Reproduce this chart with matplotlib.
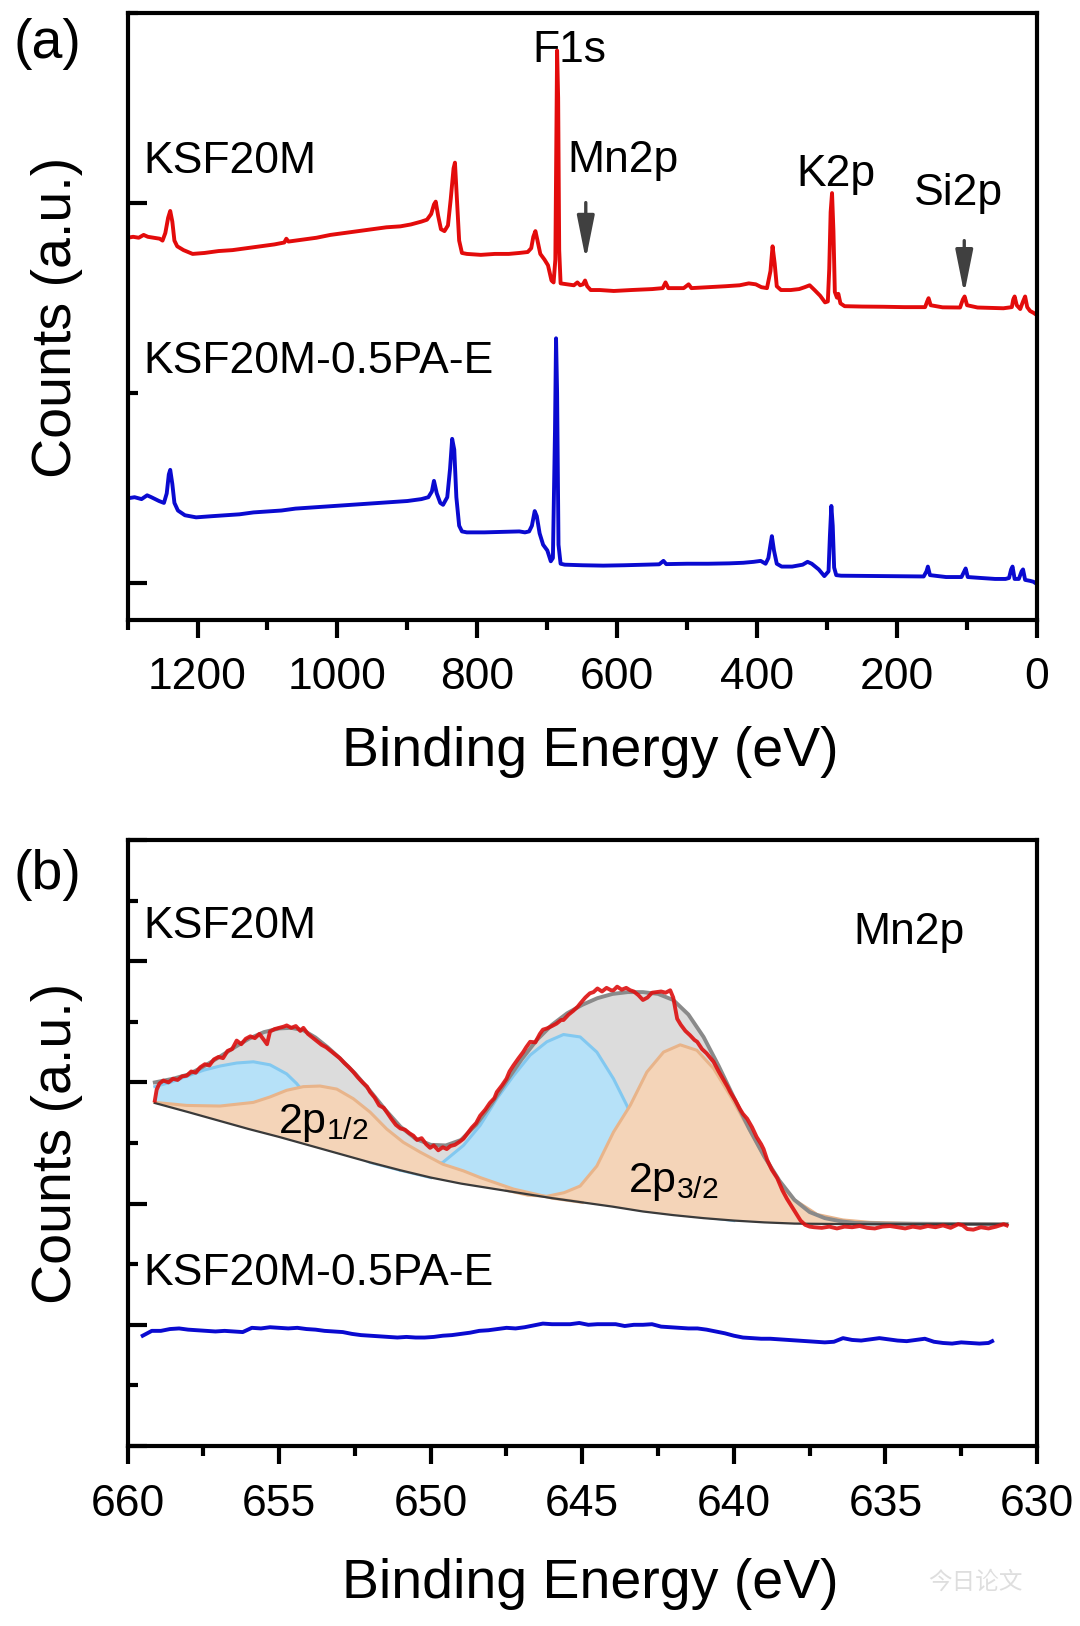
import matplotlib
matplotlib.use('Agg')
from matplotlib import pyplot as plt
import numpy as np

plt.rcParams['font.family'] = ['Liberation Sans', 'DejaVu Sans']
plt.rcParams['mathtext.fontset'] = 'custom'
plt.rcParams['mathtext.rm'] = 'Liberation Sans'

# ---------------- (a) survey spectra ----------------
red_ev = [1300, 1292, 1284, 1277, 1271, 1262, 1254, 1250, 1246, 1242, 1239, 1236, 1233, 1229, 1220,
          1207, 1190, 1170, 1150, 1130, 1110, 1090, 1076, 1073, 1070, 1050, 1030, 1010, 990, 970,
          950, 930, 910, 895, 880, 872, 866, 862, 859.5, 856, 852, 847, 842, 838, 834, 832, 829,
          826, 822, 815, 795, 775, 755, 740, 728, 723, 720, 717, 714, 710, 704, 699, 694, 691,
          688.5, 687, 686, 684.5, 683, 681, 672, 662, 657, 653, 649, 646, 643, 638, 625, 605,
          580, 550, 535, 531, 527, 505, 498, 494, 470, 445, 425, 412, 402, 394, 386, 381, 378,
          375, 372, 366, 352, 340, 332, 325, 318, 310, 303, 299, 297, 295, 293, 291, 289, 286,
          284, 281, 275, 250, 220, 190, 160, 157, 155, 152, 135, 110, 106, 103.5, 100, 85, 65,
          48, 36, 34, 32, 29, 24, 20, 17, 14, 10, 5, 1]
red_counts = [1.815, 1.82, 1.815, 1.83, 1.82, 1.815, 1.81, 1.80, 1.84, 1.92, 1.956, 1.90, 1.80, 1.77,
              1.75, 1.73, 1.735, 1.745, 1.75, 1.76, 1.77, 1.78, 1.79, 1.81, 1.795, 1.805, 1.815,
              1.83, 1.84, 1.85, 1.86, 1.87, 1.875, 1.885, 1.90, 1.91, 1.94, 1.99, 2.005, 1.93,
              1.86, 1.85, 1.88, 2.02, 2.18, 2.21, 2.00, 1.80, 1.735, 1.73, 1.725, 1.73, 1.73,
              1.735, 1.74, 1.76, 1.82, 1.85, 1.80, 1.73, 1.70, 1.67, 1.59, 1.58, 1.70, 2.40, 2.80,
              2.55, 1.75, 1.575, 1.57, 1.565, 1.58, 1.565, 1.57, 1.59, 1.56, 1.54, 1.54, 1.535,
              1.54, 1.545, 1.55, 1.58, 1.55, 1.55, 1.57, 1.55, 1.555, 1.56, 1.565, 1.575, 1.57,
              1.555, 1.55, 1.64, 1.77, 1.68, 1.56, 1.54, 1.54, 1.545, 1.555, 1.565, 1.54, 1.51,
              1.475, 1.48, 1.65, 1.95, 2.05, 1.85, 1.53, 1.50, 1.52, 1.47, 1.455, 1.453, 1.452,
              1.45, 1.45, 1.48, 1.497, 1.46, 1.449, 1.448, 1.49, 1.506, 1.46, 1.448, 1.446, 1.444,
              1.45, 1.49, 1.506, 1.46, 1.44, 1.48, 1.506, 1.45, 1.43, 1.42, 1.41]

blue_ev = [1300, 1290, 1280, 1272, 1266, 1255, 1248, 1244, 1241, 1239, 1236, 1233, 1228, 1218, 1202,
           1180, 1160, 1140, 1120, 1100, 1080, 1060, 1040, 1020, 1000, 980, 960, 940, 920, 900,
           880, 870, 865, 862, 858, 853, 849, 843, 839, 836, 833, 830, 826, 822, 815, 790, 760,
           740, 732, 726, 722, 718, 715, 711, 706, 700, 695, 692, 689, 687.5, 686, 684, 681, 675,
           650, 620, 590, 560, 540, 534, 530, 500, 470, 440, 420, 405, 395, 388, 384, 381, 379,
           376, 372, 365, 350, 335, 328, 322, 312, 304, 298, 296, 294, 292, 290, 287, 280, 250,
           220, 190, 162, 158, 156, 153, 130, 108, 104, 102, 99, 80, 60, 45, 40, 37, 35, 32, 26,
           22, 20, 17, 10, 5, 1]
blue_counts = [0.444, 0.45, 0.44, 0.46, 0.45, 0.43, 0.42, 0.47, 0.57, 0.594, 0.52, 0.42, 0.38, 0.355,
               0.344, 0.35, 0.355, 0.36, 0.37, 0.375, 0.38, 0.39, 0.395, 0.40, 0.405, 0.41, 0.415,
               0.42, 0.425, 0.43, 0.44, 0.45, 0.48, 0.536, 0.47, 0.42, 0.41, 0.45, 0.60, 0.757,
               0.70, 0.45, 0.30, 0.27, 0.265, 0.265, 0.268, 0.27, 0.265, 0.27, 0.30, 0.377, 0.35,
               0.26, 0.20, 0.17, 0.113, 0.13, 0.80, 1.286, 1.0, 0.20, 0.10, 0.095, 0.092, 0.09,
               0.092, 0.095, 0.097, 0.115, 0.098, 0.10, 0.10, 0.102, 0.105, 0.11, 0.115, 0.10,
               0.13, 0.20, 0.245, 0.17, 0.10, 0.085, 0.085, 0.095, 0.11, 0.10, 0.07, 0.035, 0.06,
               0.25, 0.404, 0.30, 0.08, 0.04, 0.037, 0.036, 0.035, 0.034, 0.033, 0.06, 0.085, 0.04,
               0.03, 0.03, 0.06, 0.075, 0.03, 0.025, 0.02, 0.02, 0.025, 0.07, 0.085, 0.02, 0.02,
               0.06, 0.07, 0.015, 0.01, 0.005, -0.005]

# ---------------- (b) Mn 2p region ----------------
mn_ev = [659.10, 659.04, 658.95, 658.82, 658.65, 658.50, 658.35, 658.20, 658.05, 657.90, 657.75,
         657.60, 657.45, 657.30, 657.15, 657.00, 656.85, 656.70, 656.55, 656.40, 656.25, 656.10,
         655.95, 655.80, 655.65, 655.50, 655.40, 655.30, 655.15, 655.00, 654.85, 654.75, 654.60,
         654.45, 654.30, 654.20, 654.05, 653.90, 653.75, 653.60, 653.45, 653.30, 653.15, 653.00,
         652.85, 652.70, 652.55, 652.40, 652.25, 652.10, 652.00, 651.85, 651.70, 651.55, 651.45,
         651.30, 651.15, 651.00, 650.85, 650.70, 650.57, 650.45, 650.30, 650.15, 650.02, 649.90,
         649.75, 649.60, 649.47, 649.35, 649.20, 649.05, 648.92, 648.80, 648.65, 648.50, 648.37,
         648.20, 648.05, 647.90, 647.82, 647.65, 647.50, 647.40, 647.27, 647.10, 646.95, 646.85,
         646.72, 646.55, 646.40, 646.30, 646.17, 646.00, 645.85, 645.70, 645.62, 645.45, 645.30,
         645.15, 645.07, 644.90, 644.75, 644.63, 644.50, 644.35, 644.20, 644.05, 643.97, 643.85,
         643.70, 643.55, 643.42, 643.30, 643.15, 643.00, 642.85, 642.70, 642.55, 642.40, 642.25,
         642.10, 642.00, 641.87, 641.75, 641.60, 641.45, 641.30, 641.21, 641.05, 640.90, 640.80,
         640.67, 640.50, 640.35, 640.20, 640.12, 639.95, 639.80, 639.70, 639.56, 639.40, 639.25,
         639.10, 639.02, 638.90, 638.75, 638.57, 638.40, 638.25, 638.10, 637.95, 637.80, 637.65,
         637.50, 637.35, 637.10, 636.85, 636.60, 636.35, 636.10, 635.85, 635.60, 635.35, 635.10,
         634.85, 634.60, 634.35, 634.10, 633.85, 633.60, 633.35, 633.10, 632.85, 632.60, 632.45,
         632.30, 632.10, 631.85, 631.60, 631.35, 631.10, 631.00]
mn_counts = [5.70, 5.88, 5.98, 6.03, 6.00, 6.06, 6.04, 6.10, 6.11, 6.18, 6.16, 6.25, 6.30, 6.28,
             6.38, 6.42, 6.40, 6.52, 6.55, 6.69, 6.63, 6.72, 6.76, 6.73, 6.80, 6.70, 6.63, 6.84,
             6.88, 6.90, 6.92, 6.94, 6.90, 6.93, 6.85, 6.90, 6.80, 6.74, 6.68, 6.62, 6.58, 6.52,
             6.46, 6.40, 6.32, 6.25, 6.17, 6.08, 6.00, 5.93, 5.84, 5.75, 5.62, 5.58, 5.51, 5.40,
             5.30, 5.24, 5.22, 5.16, 5.12, 5.05, 5.08, 4.98, 4.92, 4.96, 4.88, 4.93, 4.90, 4.95,
             4.97, 5.02, 5.07, 5.15, 5.25, 5.33, 5.45, 5.55, 5.66, 5.74, 5.84, 5.95, 6.06, 6.18,
             6.28, 6.40, 6.50, 6.58, 6.67, 6.66, 6.80, 6.87, 6.89, 6.93, 6.97, 7.03, 7.03, 7.12,
             7.18, 7.25, 7.30, 7.40, 7.47, 7.49, 7.55, 7.50, 7.56, 7.52, 7.52, 7.58, 7.53, 7.56,
             7.52, 7.50, 7.44, 7.36, 7.40, 7.48, 7.49, 7.50, 7.48, 7.52, 7.40, 7.05, 6.95, 6.85,
             6.78, 6.70, 6.67, 6.55, 6.48, 6.42, 6.34, 6.18, 6.05, 5.92, 5.84, 5.70, 5.56, 5.48,
             5.40, 5.26, 5.10, 4.98, 4.90, 4.72, 4.56, 4.42, 4.22, 4.08, 3.96, 3.84, 3.72, 3.65,
             3.62, 3.61, 3.60, 3.62, 3.59, 3.62, 3.61, 3.63, 3.60, 3.59, 3.62, 3.63, 3.61, 3.59,
             3.62, 3.60, 3.63, 3.61, 3.64, 3.60, 3.66, 3.64, 3.58, 3.57, 3.61, 3.59, 3.62, 3.66,
             3.64]

# Shirley-type background
bg_ev = [659.1, 658, 657, 656, 655, 654, 653, 652, 651, 650, 649, 648, 647, 646, 645, 644, 643,
         642, 641, 640, 639, 638, 636, 631]
bg_counts = [5.66, 5.51, 5.37, 5.23, 5.10, 4.96, 4.82, 4.68, 4.55, 4.43, 4.33, 4.25, 4.17, 4.09,
             4.02, 3.95, 3.87, 3.81, 3.76, 3.72, 3.69, 3.67, 3.66, 3.66]

# cumulative fit envelope
env_ev = [659.1, 658.5, 658.0, 657.5, 657.0, 656.5, 656.0, 655.5, 655.0, 654.6, 654.2, 653.8,
          653.4, 653.0, 652.5, 652.0, 651.5, 651.0, 650.5, 650.0, 649.5, 649.0, 648.5, 648.0,
          647.5, 647.0, 646.5, 646.0, 645.5, 645.0, 644.5, 644.0, 643.5, 643.0, 642.5, 642.0,
          641.5, 641.0, 640.5, 640.0, 639.5, 639.0, 638.5, 638.0, 637.5, 637.0, 636.5, 636.0,
          635.0, 631.0]
env_counts = [6.00, 6.06, 6.13, 6.26, 6.41, 6.57, 6.72, 6.83, 6.89, 6.90, 6.86, 6.74, 6.58, 6.40,
              6.15, 5.86, 5.55, 5.27, 5.07, 4.97, 4.96, 5.05, 5.30, 5.64, 6.02, 6.38, 6.70, 6.95,
              7.14, 7.28, 7.39, 7.46, 7.49, 7.49, 7.46, 7.36, 7.12, 6.75, 6.27, 5.75, 5.24, 4.78,
              4.38, 4.06, 3.86, 3.76, 3.71, 3.68, 3.67, 3.66]

# fitted components (blue and orange)
c1_ev = [659.1, 658.6, 658.05, 657.5, 656.95, 656.4, 655.85, 655.3, 654.75, 654.42, 654.0, 653.5,
         653.0, 652.5, 652.0, 651.0, 650.0]
c1_counts = [5.93, 6.00, 6.10, 6.20, 6.27, 6.32, 6.34, 6.29, 6.14, 5.98, 5.72, 5.38, 5.05, 4.80,
             4.68, 4.55, 4.43]

c2_ev = [659.1, 658.05, 656.95, 655.85, 655.3, 654.75, 654.2, 653.65, 653.1, 652.55, 652.0,
         651.45, 650.9, 650.35, 649.6, 648.92, 648.37, 647.27, 646.4, 646.0, 645.0]
c2_counts = [5.67, 5.62, 5.61, 5.67, 5.76, 5.87, 5.93, 5.94, 5.89, 5.73, 5.51, 5.23, 5.01, 4.85,
             4.65, 4.54, 4.43, 4.24, 4.14, 4.09, 4.02]

c3_ev = [651.0, 650.3, 649.6, 648.92, 648.37, 647.82, 647.27, 646.72, 646.17, 645.62, 645.07,
         644.52, 643.97, 643.53, 643.0, 642.5, 642.0, 641.5, 641.0, 640.0]
c3_counts = [4.55, 4.55, 4.68, 4.96, 5.29, 5.73, 6.11, 6.45, 6.67, 6.79, 6.75, 6.50, 6.06, 5.62,
             5.00, 4.45, 4.10, 3.90, 3.78, 3.72]

c4_ev = [647.5, 646.8, 646.17, 645.6, 645.07, 644.52, 643.97, 643.42, 642.87, 642.32, 641.77,
         641.22, 640.67, 640.12, 639.57, 639.02, 638.47, 638.03, 637.25, 636.4, 635.5, 634.0,
         631.0]
c4_counts = [4.22, 4.14, 4.12, 4.18, 4.29, 4.62, 5.18, 5.62, 6.17, 6.50, 6.62, 6.53, 6.23, 5.78,
             5.29, 4.79, 4.35, 4.07, 3.82, 3.73, 3.69, 3.67, 3.66]

pa_ev = [659.50, 659.20, 658.90, 658.60, 658.30, 658.00, 657.70, 657.40, 657.10, 656.80, 656.50,
         656.20, 655.90, 655.60, 655.30, 655.00, 654.70, 654.40, 654.10, 653.80, 653.50, 653.20,
         652.90, 652.60, 652.30, 652.00, 651.70, 651.40, 651.10, 650.80, 650.50, 650.20, 649.90,
         649.60, 649.30, 649.00, 648.70, 648.40, 648.10, 647.80, 647.50, 647.20, 646.90, 646.60,
         646.30, 646.00, 645.70, 645.40, 645.10, 644.80, 644.50, 644.20, 643.90, 643.60, 643.30,
         643.00, 642.70, 642.40, 642.10, 641.80, 641.50, 641.20, 640.90, 640.60, 640.30, 640.00,
         639.70, 639.40, 639.10, 638.80, 638.50, 638.20, 637.90, 637.60, 637.30, 637.00, 636.70,
         636.40, 636.10, 635.80, 635.50, 635.20, 634.90, 634.60, 634.30, 634.00, 633.70, 633.40,
         633.10, 632.80, 632.50, 632.20, 631.90, 631.60, 631.48]
pa_counts = [1.82, 1.90, 1.90, 1.93, 1.94, 1.92, 1.91, 1.90, 1.89, 1.90, 1.89, 1.88, 1.95, 1.94,
             1.96, 1.95, 1.94, 1.95, 1.93, 1.92, 1.90, 1.89, 1.88, 1.85, 1.83, 1.82, 1.81, 1.80,
             1.79, 1.80, 1.79, 1.79, 1.80, 1.82, 1.83, 1.85, 1.87, 1.90, 1.91, 1.93, 1.95, 1.94,
             1.96, 1.99, 2.02, 2.01, 2.01, 2.01, 2.03, 2.00, 2.01, 2.01, 2.01, 1.98, 2.00, 2.00,
             2.01, 1.97, 1.96, 1.95, 1.94, 1.94, 1.92, 1.89, 1.86, 1.82, 1.79, 1.78, 1.77, 1.77,
             1.76, 1.75, 1.74, 1.73, 1.72, 1.71, 1.72, 1.78, 1.75, 1.74, 1.76, 1.78, 1.76, 1.74,
             1.73, 1.75, 1.77, 1.72, 1.70, 1.69, 1.71, 1.70, 1.69, 1.70, 1.73]

RED = '#e30b0b'
BLUE = '#0a0ad0'


def style_axes(ax):
    for s in ax.spines.values():
        s.set_linewidth(3)
    ax.tick_params(axis='x', which='major', direction='out', length=13, width=3,
                   labelsize=32, pad=14)
    ax.tick_params(axis='x', which='minor', direction='out', length=7, width=3)
    ax.tick_params(axis='y', which='major', direction='in', length=14, width=3,
                   labelleft=False)
    ax.tick_params(axis='y', which='minor', direction='in', length=7, width=3)


def on_bg(ev):
    # background value under each point of a component
    return np.interp(ev, bg_ev[::-1], bg_counts[::-1])


fig = plt.figure(figsize=(10.8, 16.26), dpi=100)

# ---- panel (a)
ax1 = fig.add_axes([0.1181, 0.6187, 0.8421, 0.3736])
ax1.plot(red_ev, red_counts, color=RED, lw=2.8, solid_joinstyle='round')
ax1.plot(blue_ev, blue_counts, color=BLUE, lw=2.8, solid_joinstyle='round')
ax1.set_xlim(1300, 0)
ax1.set_ylim(-0.196, 3.0)
ax1.set_xticks([1200, 1000, 800, 600, 400, 200, 0])
ax1.set_xticks([1300, 1100, 900, 700, 500, 300, 100], minor=True)
ax1.set_yticks([0, 2])
ax1.set_yticks([1, 3], minor=True)
style_axes(ax1)

ax1.text(1277.8, 2.217, 'KSF20M', fontsize=32, va='center', ha='left')
ax1.text(1277.8, 1.164, 'KSF20M-0.5PA-E', fontsize=32, va='center', ha='left')
ax1.text(668, 2.80, 'F1s', fontsize=32, va='center', ha='center')
ax1.text(671.7, 2.22, 'Mn2p', fontsize=32, va='center', ha='left')
ax1.text(344.2, 2.15, 'K2p', fontsize=32, va='center', ha='left')
ax1.text(175.4, 2.05, 'Si2p', fontsize=32, va='center', ha='left')
arrow = dict(arrowstyle='-|>,head_length=1.1,head_width=0.22', color='#404040', lw=2.4,
             mutation_scale=24, shrinkA=0, shrinkB=0)
ax1.annotate('', xy=(645, 1.70), xytext=(645, 2.00), arrowprops=arrow)
ax1.annotate('', xy=(104, 1.52), xytext=(104, 1.80), arrowprops=arrow)

# ---- panel (b)
ax2 = fig.add_axes([0.1181, 0.1107, 0.8421, 0.3727])
ax2.fill_between(env_ev, on_bg(env_ev), env_counts, color='#dcdcdc', lw=0, zorder=1)

for ev, cnt, face, edge, z in [(c1_ev, c1_counts, '#b6e1f8', '#82c8f0', 2),
                               (c3_ev, c3_counts, '#b6e1f8', '#82c8f0', 2),
                               (c2_ev, c2_counts, '#f4d4b8', '#e8b48a', 3),
                               (c4_ev, c4_counts, '#f4d4b8', '#e8b48a', 3)]:
    ax2.fill_between(ev, on_bg(ev), cnt, color=face, lw=0, zorder=z)
    ax2.plot(ev, cnt, color=edge, lw=2.2, zorder=z + 0.5)

ax2.plot(env_ev, env_counts, color='#8a8a8a', lw=2.8, zorder=4)
ax2.plot(bg_ev, bg_counts, color='#3a3a3a', lw=1.6, zorder=4)
ax2.plot(mn_ev, mn_counts, color='#dd1010', lw=2.8, alpha=0.9, zorder=5,
         solid_joinstyle='round')
ax2.plot(pa_ev, pa_counts, color=BLUE, lw=2.8, zorder=5, solid_joinstyle='round')

ax2.set_xlim(660, 630)
ax2.set_ylim(0, 10)
ax2.set_xticks([660, 655, 650, 645, 640, 635, 630])
ax2.set_xticks([657.5, 652.5, 647.5, 642.5, 637.5, 632.5], minor=True)
ax2.set_yticks([0, 2, 4, 6, 8, 10])
ax2.set_yticks([1, 3, 5, 7, 9], minor=True)
style_axes(ax2)

ax2.text(659.49, 8.58, 'KSF20M', fontsize=32, va='center', ha='left')
ax2.text(659.49, 2.85, 'KSF20M-0.5PA-E', fontsize=32, va='center', ha='left')
ax2.text(636.06, 8.48, 'Mn2p', fontsize=32, va='center', ha='left')
ax2.text(655.03, 5.17, r'2p$_{\mathregular{1/2}}$', fontsize=31, va='baseline', ha='left', zorder=6)
ax2.text(643.48, 4.19, r'2p$_{\mathregular{3/2}}$', fontsize=31, va='baseline', ha='left', zorder=6)

# labels
fig.text(47 / 1080, 1 - 44 / 1626, '(a)', fontsize=40, ha='center', va='center')
fig.text(47 / 1080, 1 - 875 / 1626, '(b)', fontsize=40, ha='center', va='center')
fig.text(57 / 1080, 1 - 317 / 1626, 'Counts (a.u.)', fontsize=40, rotation=90,
         ha='center', va='center')
fig.text(57 / 1080, 1 - 1143 / 1626, 'Counts (a.u.)', fontsize=40, rotation=90,
         ha='center', va='center')
fig.text(590 / 1080, 1 - 752 / 1626, 'Binding Energy (eV)', fontsize=40, ha='center', va='center')
fig.text(590 / 1080, 1 - 1584 / 1626, 'Binding Energy (eV)', fontsize=40, ha='center', va='center')
fig.text(975 / 1080, 1 - 1582 / 1626, '今日论文', fontsize=17, color='#dedede',
         ha='center', va='center', family=['Noto Sans CJK SC', 'DejaVu Sans'])

plt.savefig('out.png', dpi=100)
plt.close()
